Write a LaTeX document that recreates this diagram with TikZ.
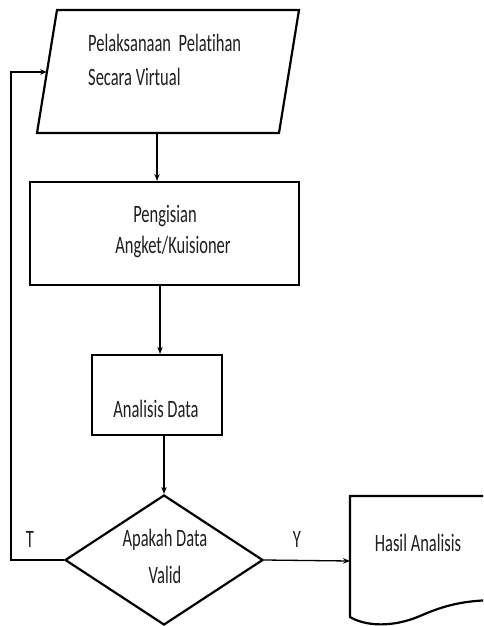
\documentclass[tikz,border=0pt]{standalone}
\usepackage{fontspec}
\setmainfont{Carlito}[FakeStretch=0.66,Ligatures=NoCommon,Contextuals=NoAlternate]
\usetikzlibrary{arrows.meta,shapes.geometric}
\begin{document}
\begin{tikzpicture}[x=1pt,y=-1pt,
  shapeline/.style={draw=black,line width=2.2pt,line join=miter},
  boxnode/.style={shapeline,rectangle,inner sep=0pt},
  conn/.style={draw=black,line width=1.3pt},
  arr/.style={conn,-{Stealth[length=7pt,width=5.5pt]}},
  txt/.style={inner sep=0pt,text=black!88,font=\fontsize{25}{33}\selectfont},
]
\useasboundingbox (0,0) rectangle (483,626);
\clip (0,0) rectangle (483,626);
\fill[white] (0,0) rectangle (483,626);

% Parallelogram (input/output)
\draw[shapeline] (57,10) -- (299,10) -- (279,133) -- (37,133) -- cycle;
\coordinate (pb) at (157,133);
\coordinate (pl) at (47,72);
\node[txt,anchor=base west] (t1a) at (88,52) {Pelaksanaan\ \ Pelat\kern0pt ihan};
\node[txt,anchor=base west] (t1b) at (88,85) {Secara Virtual};

% Process box 2
\node[boxnode,minimum width=269pt,minimum height=103pt] (b2) at (164.5,233.5) {};
\node[txt,anchor=base] (t2a) at (165,222) {Pengisian};
\node[txt,anchor=base] (t2b) at (173,253) {Angket/Kuisioner};

% Process box 3
\node[boxnode,minimum width=130pt,minimum height=80pt] (b3) at (157,395) {};
\node[txt,anchor=base] (t3) at (156,417) {Analisis Data};

% Decision
\node[shapeline,diamond,minimum width=198pt,minimum height=130pt,inner sep=0pt] (d) at (164,560) {};
\node[txt,anchor=base] (t4a) at (165,546) {Apakah Data};
\node[txt,anchor=base] (t4b) at (165,583) {Valid};

% Document
\draw[shapeline] (500,496) -- (350,496) -- (350,617)
  .. controls (365,626) and (392,628) .. (420,616)
  .. controls (445,605) and (465,600) .. (500,600);
\coordinate (hin) at (350,561);
\node[txt,anchor=base] (t5) at (418,551) {Hasil Analisis};

% Labels
\node[txt,anchor=base] (lt) at (30,547) {T};
\node[txt,anchor=base] (ly) at (297,547) {Y};

% Connectors
\coordinate (c1) at (160,0);
\coordinate (lx) at (11,0);
\draw[arr] (pb) -- (pb |- b2.north);
\draw[arr] (b2.south -| c1) -- (b3.north -| c1);
\draw[arr] (b3.south -| d.north) -- (d.north);
\draw[arr] (d.east) -- (hin);
\draw[arr] (d.west) -- (d.west -| lx) |- (pl);
\end{tikzpicture}
\end{document}
